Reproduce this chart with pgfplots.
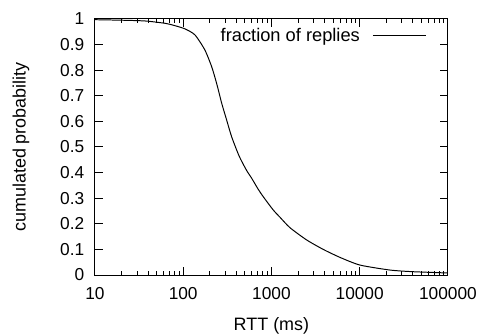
\documentclass[border=0pt]{standalone}
\usepackage{pgfplots}
\pgfplotsset{compat=1.18}
\usepackage{fontspec}
\setmainfont{Liberation Sans}
\begin{document}
\begin{tikzpicture}[font=\fontsize{10.6}{12.5}\selectfont]
\begin{axis}[
  scale only axis,
  width=216.4pt, height=157pt,
  xmode=log,
  xmin=10, xmax=100000,
  ymin=0, ymax=1,
  xtick={10,100,1000,10000,100000},
  xticklabels={10,100,1000,10000,100000},
  ytick={0,0.1,0.2,0.3,0.4,0.5,0.6,0.7,0.8,0.9,1},
  yticklabels={0,0.1,0.2,0.3,0.4,0.5,0.6,0.7,0.8,0.9,1},
  tick align=inside,
  major tick length=4.9pt,
  minor tick length=2.5pt,
  every tick/.style={black, line width=0.6pt},
  axis line style={line width=0.6pt},
  /pgf/number format/assume math mode=true,
  tick label style={font=\fontsize{10.6}{12.5}\selectfont},
  label style={font=\fontsize{11}{13}\selectfont},
  xticklabel style={yshift=-4pt},
  yticklabel style={xshift=-3pt},
  xlabel={RTT (ms)},
  ylabel={cumulated probability},
  xlabel style={yshift=-4pt},
  ylabel style={yshift=12pt},
  legend style={at={(0.94,0.934)}, anchor=east, draw=none, fill=none, inner sep=0pt, legend cell align=right, font=\fontsize{11.2}{13}\selectfont},
  legend plot pos=right,
  legend image code/.code={\path[draw=none,fill=none] (0pt,-1pt) rectangle (1pt,1pt); \draw[#1] (6pt,0pt) -- (38.5pt,0pt);},
]
\addplot[black, line width=0.6pt, smooth, tension=0.4] coordinates {
(10,0.997) (20,0.995) (37,0.992) (62,0.983) (80,0.974) (105,0.961) (136,0.9375)
(176,0.879) (210,0.814) (239,0.749) (273,0.671) (311,0.605) (354,0.540)
(430,0.465) (520,0.41) (597,0.378) (708,0.335) (807,0.306) (1048,0.254)
(1247,0.226) (1620,0.185) (2506,0.137) (3866,0.10) (5970,0.069) (10060,0.039)
(22000,0.0195) (40100,0.013) (100000,0.008)
};
\addlegendentry{fraction of replies}
\end{axis}
\pgfresetboundingbox
\path[use as bounding box] (current axis.south west) ++(-58.2pt,-35.6pt) rectangle ([xshift=21.5pt,yshift=11.6pt]current axis.north east);
\end{tikzpicture}
\end{document}
